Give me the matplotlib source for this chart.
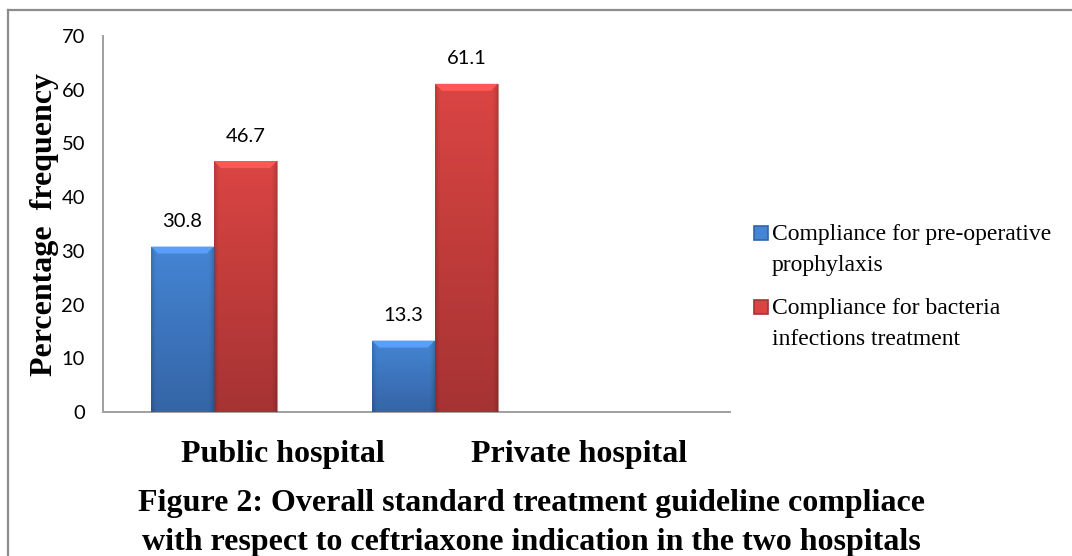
import numpy as np
import matplotlib
matplotlib.use("Agg")
import matplotlib.pyplot as plt
from matplotlib.patches import Rectangle, Polygon
from matplotlib.lines import Line2D

# data
hospitals = ["Public hospital", "Private hospital"]
prophylaxis = [30.8, 13.3]
treatment = [46.7, 61.1]
series_names = ["Compliance for pre-operative\nprophylaxis",
                "Compliance for bacteria\ninfections treatment"]
yticks = [0, 10, 20, 30, 40, 50, 60, 70]
caption = ("Figure 2: Overall standard treatment guideline compliace\n"
           "with respect to ceftriaxone indication in the two hospitals")

blue_top, blue_bot = "#4585d4", "#3465a6"
red_top, red_bot = "#da4543", "#a63333"

fig = plt.figure(figsize=(10.72, 5.56), dpi=100)
W, H = 1072, 556

def fx(px):
    return px / W

def fy(py):
    return 1 - py / H

ax = fig.add_axes([fx(103), fy(412), fx(730) - fx(103), (412 - 36) / H])

x = np.arange(len(hospitals))
w = 0.285
b1 = ax.bar(x - w / 2, prophylaxis, w, color=blue_top, zorder=2)
b2 = ax.bar(x + w / 2, treatment, w, color=red_top, zorder=2)
ax.set_xlim(-0.502, 2.335)
ax.set_ylim(0, 70)


def shade(bars, c_top, c_bot):
    ct = np.array(matplotlib.colors.to_rgb(c_top))
    cb = np.array(matplotlib.colors.to_rgb(c_bot))
    t = np.linspace(0, 1, 200)[:, None]
    col = ct * (1 - t) + cb * t
    img = np.repeat(col[:, None, :], 40, axis=1)
    # darken the side edges a bit
    edge = np.ones(40)
    edge[:3] = [0.86, 0.92, 0.97]
    edge[-3:] = [0.97, 0.92, 0.86]
    img = img * edge[None, :, None]
    for p in bars:
        x0, y0 = p.get_x(), p.get_y()
        bw, bh = p.get_width(), p.get_height()
        im = ax.imshow(img, extent=[x0, x0 + bw, y0, y0 + bh], aspect="auto",
                       zorder=3, interpolation="bilinear")
        im.set_clip_path(p)
        bev_h = 1.3
        ins = 0.032
        top = y0 + bh
        light = np.clip(ct * 1.12 + 0.04, 0, 1)
        ax.add_patch(Polygon([[x0, top], [x0 + bw, top],
                              [x0 + bw - ins, top - bev_h], [x0 + ins, top - bev_h]],
                             closed=True, facecolor=light, edgecolor="none",
                             zorder=4))
        ax.add_line(Line2D([x0 + bw, x0 + bw], [y0, top], color="#7a2020"
                           if c_top == red_top else "#2a4f80",
                           lw=0.8, alpha=0.5, zorder=4))
        ax.annotate(f"{bh:.1f}", (x0 + bw / 2, top), xytext=(0, 18),
                    textcoords="offset points", ha="center", va="center",
                    fontsize=14.5, family="Lato", color="#000000")


shade(b1, blue_top, blue_bot)
shade(b2, red_top, red_bot)

for s in ["top", "right"]:
    ax.spines[s].set_visible(False)
for s in ["left", "bottom"]:
    ax.spines[s].set_color("#a0a0a0")
    ax.spines[s].set_linewidth(1.4)

ax.set_yticks(yticks)
ax.set_yticklabels([str(v) for v in yticks], family="Lato", fontsize=14.5)
ax.tick_params(axis="y", length=0, pad=13)

label_pos = x + np.array([0.31, 0.65])
ax.set_xticks(label_pos)
ax.set_xticklabels(hospitals, family="Liberation Serif", fontweight="bold",
                   fontsize=23)
ax.tick_params(axis="x", length=0, pad=20)

ax.set_ylabel("Percentage  frequency", family="Liberation Serif",
              fontweight="bold", fontsize=23)
ax.yaxis.label.set_va("center")
ax.yaxis.set_label_coords((45 - 103) / (730 - 103), 0.5)

# legend drawn by hand so the swatch sits on the first line
leg_cols = [(blue_top, blue_bot), (red_top, red_bot)]
leg_y = [233, 307]
for name, (ct, cb), yy in zip(series_names, leg_cols, leg_y):
    fig.patches.append(Rectangle((fx(754), fy(yy + 7)), 14 / W, 14 / H,
                                 transform=fig.transFigure,
                                 facecolor=ct, edgecolor=cb, lw=1.2))
    fig.text(fx(772), fy(yy - 9), name, family="Liberation Serif",
             fontsize=17, va="top", ha="left", linespacing=1.6)

fig.text(fx(531), fy(523), caption, family="Liberation Serif",
         fontweight="bold", fontsize=23, ha="center", va="center",
         linespacing=1.45)

# outer frame (only top and left visible)
fig.add_artist(Line2D([fx(8), fx(1072)], [fy(10), fy(10)], color="#8c8c8c",
                      lw=1.6, transform=fig.transFigure))
fig.add_artist(Line2D([fx(8), fx(8)], [fy(10), fy(556)], color="#8c8c8c",
                      lw=1.6, transform=fig.transFigure))

fig.savefig("out.png", dpi=100)
